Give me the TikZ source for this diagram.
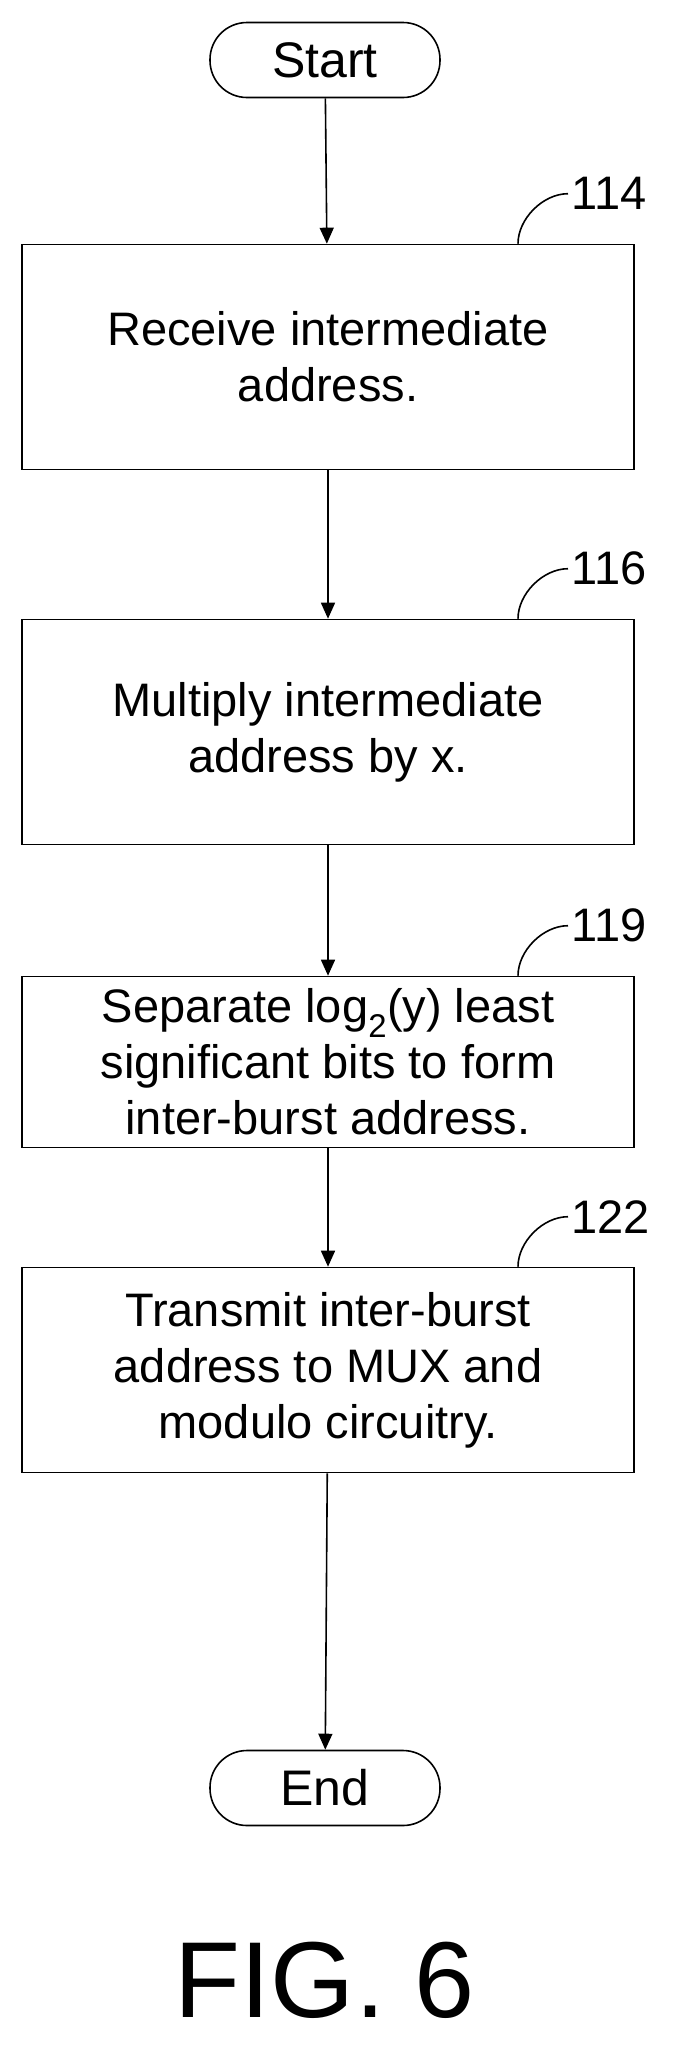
\documentclass[tikz,border=0pt]{standalone}
\usepackage{fontspec}
\setmainfont{Liberation Sans}
\usetikzlibrary{arrows.meta}
\tikzset{
	procbox/.style={draw,line width=1.6pt,minimum width=612pt,inner sep=0pt,align=center,font=\fontsize{47}{56}\selectfont},
	term/.style={draw,line width=1.6pt,rounded corners=37pt,minimum width=230pt,minimum height=75pt,font=\fontsize{50}{54}\selectfont},
	flow/.style={line width=1.6pt,-{Triangle[length=16pt,width=14pt]}},
	ref/.style={font=\fontsize{47}{47}\selectfont,anchor=west}
}
\begin{document}
\begin{tikzpicture}[x=1pt,y=-1pt]
	\useasboundingbox (0,0) rectangle (686,2065);
	\node[term] (start) at (325,60) {Start};
	\node[procbox,minimum height=225pt] (s114) at (328,357) {Receive intermediate\\address.};
	\node[procbox,minimum height=225pt] (s116) at (328,732) {Multiply intermediate\\address by x.};
	\node[procbox,minimum height=171pt] (s119) at (328,1062) {Separate log\textsubscript{2}(y) least\\significant bits to form\\inter-burst address.};
	\node[procbox,minimum height=205pt] (s122) at (328,1370) {Transmit inter-burst\\address to MUX and\\modulo circuitry.};
	\node[term] (end) at (325,1788) {End};
	\draw[flow] (start) -- (s114);
	\draw[flow] (s114) -- (s116);
	\draw[flow] (s116) -- (s119);
	\draw[flow] (s119) -- (s122);
	\draw[flow] (s122) -- (end);
	% reference numerals
	\foreach \n/\b in {114/s114,116/s116,119/s119,122/s122}{
		\draw[line width=1.6pt] ([xshift=190pt]\b.north) .. controls +(0,-25) and +(-25,0) .. ++(50,-50) coordinate (c\n);
		\node[ref] at (c\n) {\n};
	}
	\node[font=\fontsize{108}{108}\selectfont] (fig) at (325,1980) {FIG. 6};
\end{tikzpicture}
\end{document}
